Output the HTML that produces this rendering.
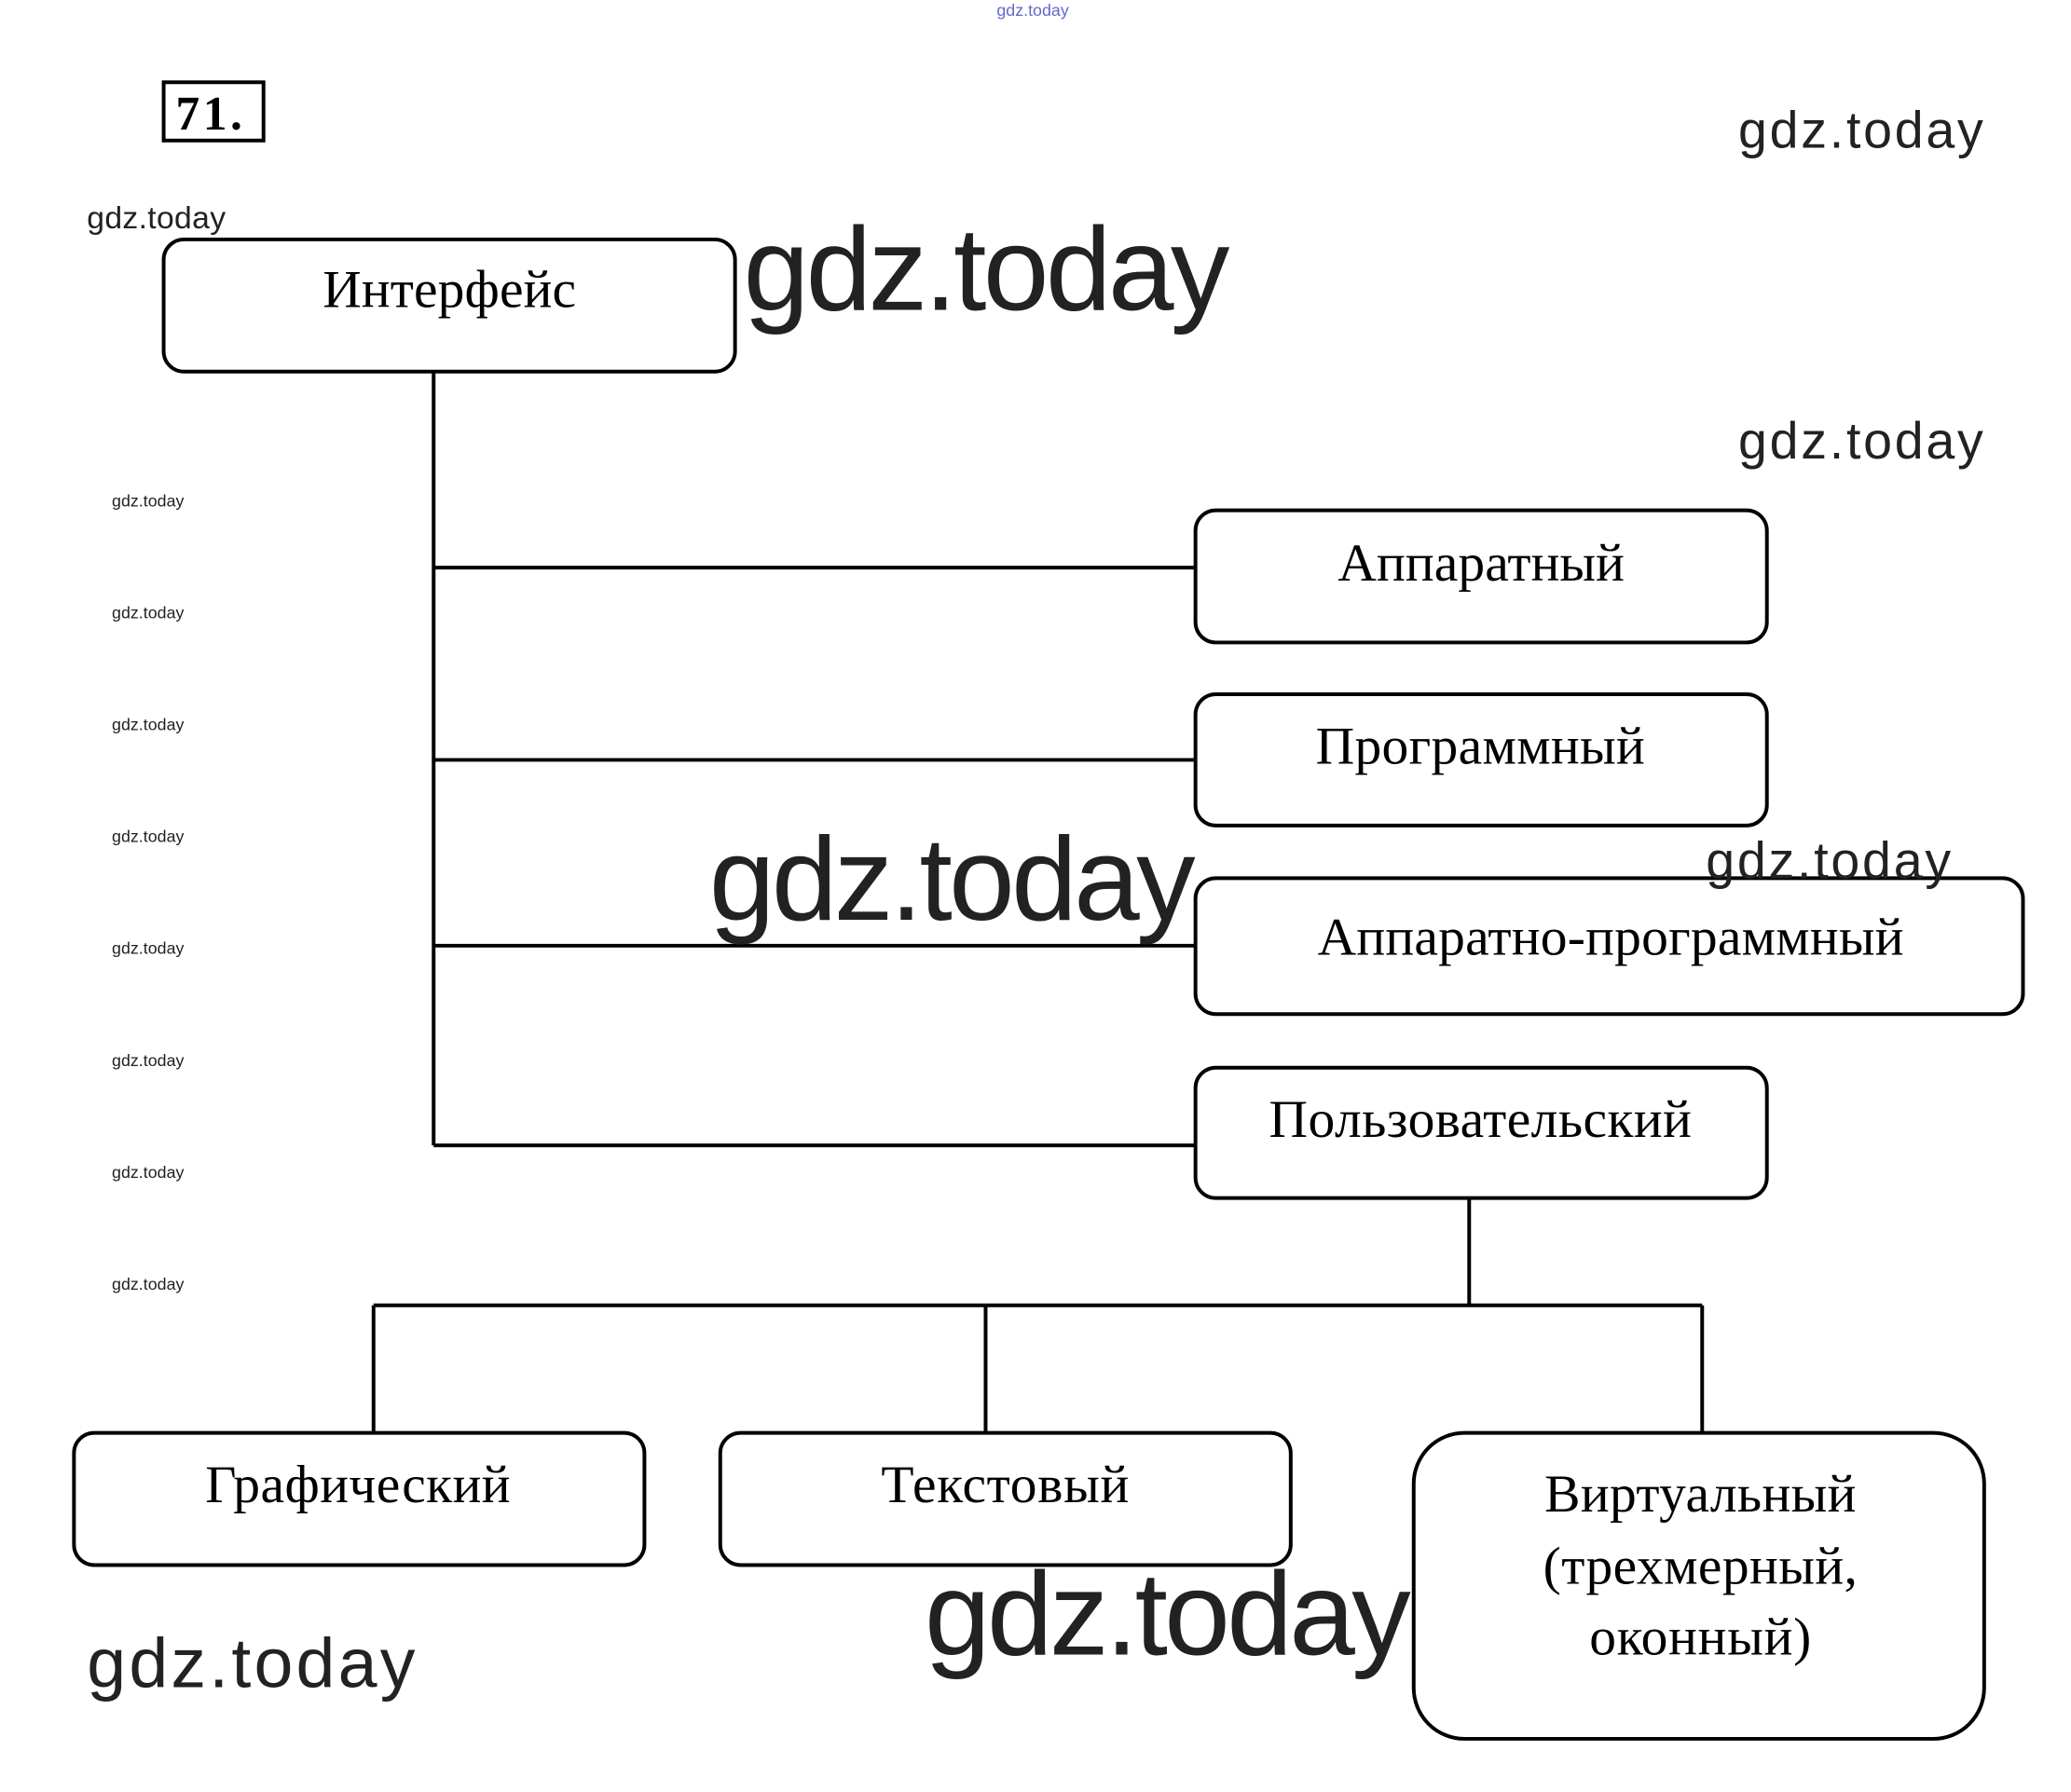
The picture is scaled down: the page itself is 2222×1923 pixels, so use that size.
<!DOCTYPE html>
<html><head><meta charset="utf-8"><style>
html,body{margin:0;padding:0;background:#fff;}
svg{display:block;}
.s{font-family:"Liberation Serif","Noto Serif CJK SC",serif;font-size:58px;fill:#000;}
.w{font-family:"Liberation Sans","DejaVu Sans",sans-serif;fill:#222;}
</style></head><body>
<svg width="2222" height="1923" viewBox="0 0 2222 1923" xmlns="http://www.w3.org/2000/svg">
<g transform="scale(0.992)">
<g fill="none" stroke="#000" stroke-width="4">
<rect x="177" y="89" width="108" height="63" stroke-width="4"/>
<rect x="177" y="259" width="618" height="143" rx="22"/>
<rect x="1293" y="552" width="618" height="143" rx="22"/>
<rect x="1293" y="751" width="618" height="142" rx="22"/>
<rect x="1293" y="950" width="895" height="147" rx="22"/>
<rect x="1293" y="1155" width="618" height="141" rx="22"/>
<rect x="80" y="1550" width="617" height="143" rx="22"/>
<rect x="779" y="1550" width="617" height="143" rx="22"/>
<rect x="1529" y="1550" width="617" height="331" rx="55"/>
<path d="M469 402V1239M469 614H1293M469 822H1293M469 1023H1293M469 1239H1293"/>
<path d="M1589 1296V1412M404 1412H1841M404 1412V1550M1066 1412V1550M1841 1412V1550"/>
</g>
<text x="190" y="140" style="font-family:'Liberation Serif',serif;font-weight:bold;font-size:52px" textLength="72">71.</text>
<text class="s" x="486" y="332" text-anchor="middle" textLength="274">Интерфейс</text>
<text class="s" x="1602" y="628" text-anchor="middle" textLength="310">Аппаратный</text>
<text class="s" x="1601" y="826" text-anchor="middle" textLength="356">Программный</text>
<text class="s" x="1742" y="1033" text-anchor="middle" textLength="634">Аппаратно-программный</text>
<text class="s" x="1601" y="1230" text-anchor="middle" textLength="457">Пользовательский</text>
<text class="s" x="387" y="1625" text-anchor="middle" textLength="330">Графический</text>
<text class="s" x="1087" y="1625" text-anchor="middle" textLength="268">Текстовый</text>
<text class="s" x="1839" y="1635" text-anchor="middle" textLength="337">Виртуальный</text>
<text class="s" x="1839" y="1713" text-anchor="middle" textLength="340">(трехмерный,</text>
<text class="s" x="1839" y="1790" text-anchor="middle" textLength="240">оконный)</text>
<g class="w">
<text x="1078" y="17" font-size="18" style="fill:#66c">gdz.today</text>
<text x="1880" y="160" font-size="56" textLength="265">gdz.today</text>
<text x="1880" y="496" font-size="56" textLength="265">gdz.today</text>
<text x="94" y="247" font-size="34" textLength="150">gdz.today</text>
<text x="804" y="335" font-size="128" textLength="526">gdz.today</text>
<text x="767" y="995" font-size="128" textLength="526">gdz.today</text>
<text x="1845" y="950" font-size="56" textLength="265">gdz.today</text>
<text x="1000" y="1790" font-size="128" textLength="526">gdz.today</text>
<text x="94" y="1825" font-size="76" textLength="355">gdz.today</text>
<g font-size="18">
<text x="121" y="548">gdz.today</text>
<text x="121" y="669">gdz.today</text>
<text x="121" y="790">gdz.today</text>
<text x="121" y="911">gdz.today</text>
<text x="121" y="1032">gdz.today</text>
<text x="121" y="1153">gdz.today</text>
<text x="121" y="1274">gdz.today</text>
<text x="121" y="1395">gdz.today</text>
</g>
</g>
</g>
</svg>
</body></html>
